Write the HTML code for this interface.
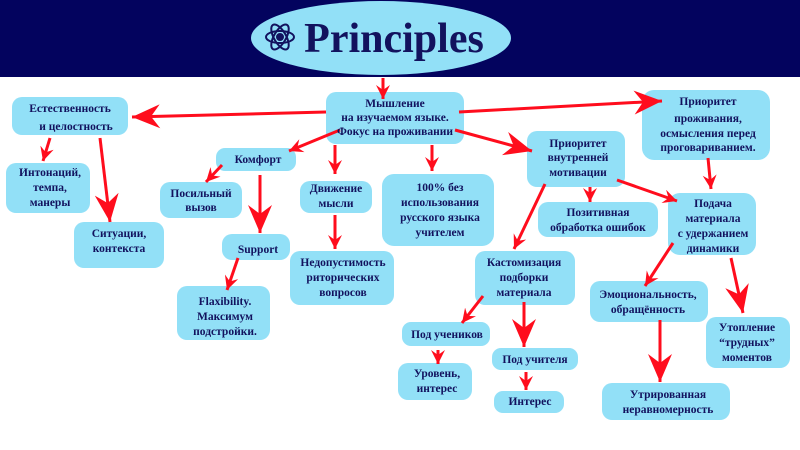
<!DOCTYPE html>
<html><head><meta charset="utf-8"><style>
html,body{margin:0;padding:0;background:#fff}
svg{display:block}
text{font-family:"Liberation Serif",serif;font-weight:bold;fill:#12125e;font-size:11.5px;text-anchor:middle}
.b{fill:#92e0f7}
.a{stroke:#ff0d1d;stroke-width:3;fill:none}
</style></head><body>
<svg width="800" height="450" viewBox="0 0 800 450" xmlns="http://www.w3.org/2000/svg">
<defs>
<marker id="s" markerUnits="userSpaceOnUse" markerWidth="16" markerHeight="14" refX="14" refY="7" orient="auto"><path d="M0,0 L14,7 L0,14 L5,7 z" fill="#ff0d1d"/></marker>
<marker id="g" markerUnits="userSpaceOnUse" markerWidth="30" markerHeight="24" refX="28" refY="12" orient="auto"><path d="M0,0 L28,12 L0,24 L9,12 z" fill="#ff0d1d"/></marker>
</defs>
<rect x="0" y="0" width="800" height="77" fill="#03035e"/>
<ellipse cx="381" cy="38" rx="130" ry="37" fill="#92e0f7"/>
<g transform="translate(280,37)" stroke="#12125e" stroke-width="2" fill="none">
<ellipse rx="14" ry="6"/><ellipse rx="14" ry="6" transform="rotate(60)"/><ellipse rx="14" ry="6" transform="rotate(-60)"/><circle r="3" fill="#12125e"/>
</g>
<text x="394" y="52" style="font-size:42px">Principles</text>

<g class="b">
<rect x="326" y="92" width="138" height="52" rx="10"/>
<rect x="12" y="97" width="116" height="38" rx="10"/>
<rect x="642" y="90" width="128" height="70" rx="12"/>
<rect x="527" y="131" width="98" height="56" rx="10"/>
<rect x="6" y="163" width="84" height="50" rx="10"/>
<rect x="74" y="222" width="90" height="46" rx="10"/>
<rect x="216" y="148" width="80" height="23" rx="9"/>
<rect x="160" y="182" width="82" height="36" rx="10"/>
<rect x="222" y="234" width="68" height="26" rx="10"/>
<rect x="177" y="286" width="93" height="54" rx="10"/>
<rect x="300" y="181" width="72" height="32" rx="10"/>
<rect x="290" y="251" width="104" height="54" rx="10"/>
<rect x="382" y="174" width="112" height="72" rx="12"/>
<rect x="538" y="202" width="120" height="35" rx="10"/>
<rect x="668" y="193" width="88" height="62" rx="12"/>
<rect x="475" y="251" width="100" height="54" rx="10"/>
<rect x="402" y="322" width="88" height="24" rx="9"/>
<rect x="398" y="363" width="74" height="37" rx="10"/>
<rect x="492" y="348" width="86" height="22" rx="9"/>
<rect x="494" y="391" width="70" height="22" rx="9"/>
<rect x="590" y="281" width="118" height="41" rx="10"/>
<rect x="602" y="383" width="128" height="37" rx="10"/>
<rect x="706" y="317" width="84" height="51" rx="10"/>
</g>

<g class="a">
<line x1="383" y1="78" x2="383" y2="99" marker-end="url(#s)"/>
<line x1="326" y1="112" x2="132" y2="117" marker-end="url(#g)"/>
<line x1="459" y1="112" x2="662" y2="101" marker-end="url(#g)"/>
<line x1="340" y1="130" x2="289" y2="151" marker-end="url(#s)"/>
<line x1="335" y1="145" x2="335" y2="174" marker-end="url(#s)"/>
<line x1="432" y1="145" x2="432" y2="171" marker-end="url(#s)"/>
<line x1="455" y1="130" x2="532" y2="151" marker-end="url(#g)"/>
<line x1="50" y1="138" x2="43" y2="161" marker-end="url(#s)"/>
<line x1="100" y1="138" x2="110" y2="222" marker-end="url(#g)"/>
<line x1="222" y1="165" x2="206" y2="182" marker-end="url(#s)"/>
<line x1="260" y1="175" x2="260" y2="233" marker-end="url(#g)"/>
<line x1="335" y1="215" x2="335" y2="249" marker-end="url(#s)"/>
<line x1="238" y1="258" x2="227" y2="290" marker-end="url(#s)"/>
<line x1="708" y1="158" x2="711" y2="189" marker-end="url(#s)"/>
<line x1="545" y1="184" x2="514" y2="249" marker-end="url(#s)"/>
<line x1="590" y1="187" x2="590" y2="202" marker-end="url(#s)"/>
<line x1="617" y1="180" x2="677" y2="201" marker-end="url(#s)"/>
<line x1="673" y1="243" x2="645" y2="286" marker-end="url(#s)"/>
<line x1="731" y1="258" x2="743" y2="313" marker-end="url(#g)"/>
<line x1="483" y1="296" x2="462" y2="323" marker-end="url(#s)"/>
<line x1="524" y1="302" x2="524" y2="347" marker-end="url(#g)"/>
<line x1="438" y1="350" x2="438" y2="364" marker-end="url(#s)"/>
<line x1="526" y1="372" x2="526" y2="390" marker-end="url(#s)"/>
<line x1="660" y1="320" x2="660" y2="382" marker-end="url(#g)"/>
</g>

<text x="395" y="107">Мышление</text><text x="395" y="121">на изучаемом языке.</text><text x="395" y="135">Фокус на проживании</text>
<text x="70" y="112">Естественность</text><text x="76" y="130">и целостность</text>
<text x="708" y="105">Приоритет</text><text x="708" y="122">проживания,</text><text x="708" y="137">осмысления перед</text><text x="708" y="151">проговариванием.</text>
<text x="578" y="147">Приоритет</text><text x="578" y="161">внутренней</text><text x="578" y="176">мотивации</text>
<text x="50" y="176">Интонаций,</text><text x="50" y="191">темпа,</text><text x="50" y="206">манеры</text>
<text x="119" y="237">Ситуации,</text><text x="119" y="252">контекста</text>
<text x="258" y="163">Комфорт</text>
<text x="201" y="197">Посильный</text><text x="201" y="211">вызов</text>
<text x="258" y="253">Support</text>
<text x="225" y="305">Flaxibility.</text><text x="225" y="320">Максимум</text><text x="225" y="335">подстройки.</text>
<text x="336" y="192">Движение</text><text x="336" y="207">мысли</text>
<text x="343" y="266">Недопустимость</text><text x="343" y="281">риторических</text><text x="343" y="296">вопросов</text>
<text x="440" y="191">100% без</text><text x="440" y="206">использования</text><text x="440" y="221">русского языка</text><text x="440" y="236">учителем</text>
<text x="598" y="216">Позитивная</text><text x="598" y="231">обработка ошибок</text>
<text x="713" y="207">Подача</text><text x="713" y="222">материала</text><text x="713" y="237">с удержанием</text><text x="713" y="252">динамики</text>
<text x="524" y="266">Кастомизация</text><text x="524" y="281">подборки</text><text x="524" y="296">материала</text>
<text x="447" y="338">Под учеников</text>
<text x="437" y="377">Уровень,</text><text x="437" y="392">интерес</text>
<text x="535" y="363">Под учителя</text>
<text x="530" y="405">Интерес</text>
<text x="648" y="298">Эмоциональность,</text><text x="648" y="313">обращённость</text>
<text x="668" y="398">Утрированная</text><text x="668" y="413">неравномерность</text>
<text x="747" y="331">Утопление</text><text x="747" y="346">“трудных”</text><text x="747" y="361">моментов</text>
</svg>
</body></html>
